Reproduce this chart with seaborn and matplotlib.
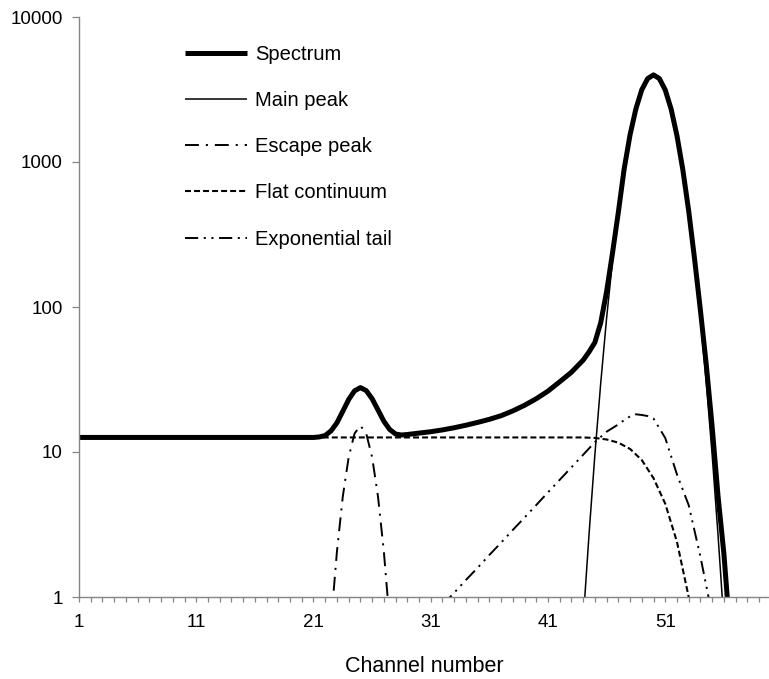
import numpy as np
import pandas as pd
import matplotlib
matplotlib.use("Agg")
import matplotlib.pyplot as plt
import seaborn as sns
from matplotlib.ticker import FixedLocator, MultipleLocator, FuncFormatter, NullLocator

# ---- data: counts per channel for each component ----
spectrum_ch = [1, 5, 10, 15, 20, 21, 21.5, 22, 22.5, 23, 23.5, 24, 24.5, 25, 25.5, 26,
               26.5, 27, 27.5, 28, 28.5, 29, 30, 31, 32, 33, 34, 35, 36, 37, 38, 39,
               40, 41, 42, 43, 44, 44.5, 45, 45.5, 46, 46.5, 47, 47.5, 48, 48.5, 49,
               49.5, 50, 50.5, 51, 51.5, 52, 52.5, 53, 53.5, 54, 54.5, 55, 55.5, 56, 56.5]
spectrum = [12.6, 12.6, 12.6, 12.6, 12.6, 12.6, 12.7, 13.0, 14.0, 15.9, 19.1, 23.0, 26.4,
            27.8, 26.5, 23.3, 19.5, 16.3, 14.3, 13.3, 13.1, 13.2, 13.5, 13.8, 14.2, 14.7,
            15.3, 16.0, 16.8, 17.8, 19.2, 21.0, 23.3, 26.3, 30.5, 35.5, 43, 49, 57, 78,
            128, 235, 450, 900, 1540, 2330, 3150, 3760, 3990, 3760, 3140, 2320, 1520,
            885, 460, 215, 95, 40, 15, 5, 2.0, 0.6]

main_ch = [43.5, 44, 44.5, 45, 45.5, 46, 46.5, 47, 47.5, 48, 48.5, 49, 49.5, 50, 50.5,
           51, 51.5, 52, 52.5, 53, 53.5, 54, 54.5, 55, 55.5, 56, 56.5]
main_peak = [0.15, 0.68, 2.7, 9.6, 30, 84, 207, 454, 882, 1517, 2313, 3128, 3747, 3980,
             3747, 3128, 2313, 1517, 882, 454, 207, 84, 30, 9.6, 2.7, 0.68, 0.15]

escape_ch = [22, 22.5, 23, 23.5, 24, 24.5, 25, 25.5, 26, 26.5, 27, 27.5, 28]
escape_peak = [0.17, 0.67, 2.06, 4.94, 9.2, 13.4, 15.2, 13.4, 9.2, 4.94, 2.06, 0.67, 0.17]

continuum_ch = [1, 44, 45, 46, 47, 48, 49, 50, 51, 52, 53, 54]
continuum = [12.6, 12.6, 12.5, 12.2, 11.6, 10.5, 8.8, 6.6, 4.4, 2.4, 1.0, 0.35]

tail_ch = [32, 33, 34, 35, 36, 37, 38, 39, 40, 41, 42, 43, 44, 45, 46, 47, 47.5, 48,
           48.5, 49, 49.5, 50, 51, 52, 53, 54, 55]
exp_tail = [0.88, 1.07, 1.31, 1.59, 1.95, 2.37, 2.90, 3.53, 4.31, 5.27, 6.43, 7.84, 9.57,
            11.7, 13.8, 15.5, 16.6, 17.6, 18.2, 18.0, 17.7, 17.0, 12.5, 7.0, 4.3, 1.9, 0.75]

x_ticks = [1, 11, 21, 31, 41, 51]
y_ticks = [1, 10, 100, 1000, 10000]

# ---- style ----
sns.set_theme(style="white")
plt.rcParams["font.family"] = ["Liberation Sans", "DejaVu Sans"]
plt.rcParams["text.color"] = "black"
plt.rcParams["lines.scale_dashes"] = False
plt.rcParams["lines.solid_capstyle"] = "butt"
plt.rcParams["lines.dash_capstyle"] = "butt"

fig = plt.figure(figsize=(7.69, 6.79), dpi=100)
ax = fig.add_axes([79 / 769, 1 - 597 / 679, (769 - 79) / 769, (597 - 17) / 679])

components = [
    ("Spectrum", spectrum_ch, spectrum, 3.6, "-"),
    ("Main peak", main_ch, main_peak, 1.1, "-"),
    ("Escape peak", escape_ch, escape_peak, 1.4, (0, (10, 5, 1.5, 5))),
    ("Flat continuum", continuum_ch, continuum, 1.5, (0, (4.3, 2.2))),
    ("Exponential tail", tail_ch, exp_tail, 1.4, (0, (9.5, 4, 1.5, 4, 1.5, 4))),
]

for label, xs, ys, lw, ls in components:
    df = pd.DataFrame({"channel": xs, "counts": ys})
    sns.lineplot(data=df, x="channel", y="counts", ax=ax, color="black",
                 linewidth=lw, linestyle=ls, label=label,
                 estimator=None, errorbar=None, sort=True)

ax.set_yscale("log")
ax.set_ylim(1, 10000)
ax.set_xlim(1, 59.85)

ax.yaxis.set_major_locator(FixedLocator(y_ticks))
ax.yaxis.set_major_formatter(FuncFormatter(lambda v, p: f"{v:g}"))
ax.yaxis.set_minor_locator(NullLocator())
ax.xaxis.set_major_locator(FixedLocator(x_ticks))
ax.xaxis.set_minor_locator(MultipleLocator(1))

for side in ("top", "right"):
    ax.spines[side].set_visible(False)
for side in ("left", "bottom"):
    ax.spines[side].set_color("#858585")
    ax.spines[side].set_linewidth(1.0)

ax.tick_params(axis="x", which="both", direction="out", length=3.6, width=0.9,
               color="#858585", bottom=True, labelsize=13.5, pad=8.8, labelcolor="black")
ax.tick_params(axis="y", which="major", direction="out", length=4.8, width=0.9,
               color="#858585", left=True, labelsize=13.5, pad=7, labelcolor="black")

ax.set_xlabel("Channel number", fontsize=15.5, labelpad=18, color="black")
ax.set_ylabel("")

leg = ax.legend(loc="upper left", bbox_to_anchor=(0.1536, 0.952), frameon=False,
                fontsize=14.5, handlelength=3.08, handletextpad=0.4, labelspacing=1.35,
                borderpad=0, borderaxespad=0)
for t in leg.get_texts():
    t.set_color("black")

fig.savefig("out.png", dpi=100)
